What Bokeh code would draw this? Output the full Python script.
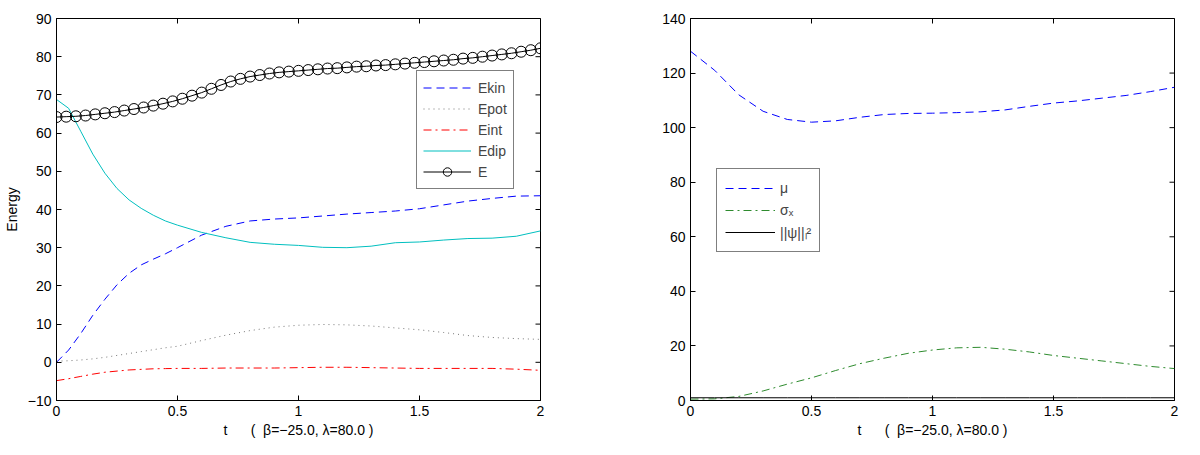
from bokeh.plotting import figure
from bokeh.layouts import row
from bokeh.models import (Range1d, FixedTicker, Legend, LegendItem,
                          CustomJSTickFormatter)
from bokeh.embed import file_html
from bokeh.resources import INLINE

# ---------------- data ----------------
t_a = [0, 0.05, 0.1, 0.15, 0.2, 0.25, 0.3, 0.35, 0.4, 0.45, 0.5,
       0.6, 0.7, 0.8, 0.9, 1.0, 1.1, 1.2, 1.3, 1.4, 1.5, 1.6, 1.7, 1.8, 1.9, 2.0]
ekin = [0.0, 3.2, 7.5, 12.3, 16.5, 20.3, 23.3, 25.5, 27.0, 28.4, 30.0,
        33.3, 35.6, 37.0, 37.5, 37.8, 38.3, 38.8, 39.2, 39.6, 40.2, 41.2, 42.2, 42.9, 43.5, 43.6]
epot = [0.3, 0.4, 0.6, 0.9, 1.3, 1.8, 2.3, 2.8, 3.3, 3.8, 4.2,
        5.7, 7.1, 8.3, 9.2, 9.7, 9.9, 9.8, 9.5, 9.0, 8.5, 7.8, 7.0, 6.5, 6.2, 6.0]
eint = [-4.8, -4.3, -3.7, -3.1, -2.6, -2.3, -2.0, -1.85, -1.7, -1.65, -1.6,
        -1.6, -1.5, -1.5, -1.5, -1.4, -1.3, -1.3, -1.4, -1.5, -1.6, -1.6, -1.6, -1.6, -1.8, -2.1]
edip = [68.8, 66.5, 60.5, 54.5, 49.5, 45.5, 42.5, 40.3, 38.5, 37.0, 35.9,
        34.0, 32.6, 31.4, 30.9, 30.6, 30.1, 30.0, 30.4, 31.3, 31.5, 32.0, 32.4, 32.5, 33.0, 34.4]

t_e = [i * 0.04 for i in range(51)]
e_tot = [64.2, 64.3, 64.4, 64.6, 64.9, 65.2, 65.5, 65.9, 66.3, 66.7,
         67.2, 67.7, 68.3, 69.0, 69.8, 70.6, 71.6, 72.6, 73.5, 74.2,
         74.8, 75.2, 75.6, 75.9, 76.1, 76.3, 76.5, 76.7, 76.9, 77.0,
         77.2, 77.4, 77.5, 77.7, 77.8, 78.0, 78.2, 78.4, 78.6, 78.8,
         79.0, 79.2, 79.5, 79.7, 80.0, 80.3, 80.6, 80.9, 81.3, 81.7, 82.2]

t_b = [0.0, 0.1, 0.2, 0.3, 0.4, 0.5, 0.6, 0.7, 0.8, 0.9, 1.0,
       1.1, 1.2, 1.3, 1.4, 1.5, 1.6, 1.7, 1.8, 1.9, 2.0]
mu = [128.0, 121.0, 112.0, 106.0, 103.0, 102.0, 102.5, 103.8, 104.8, 105.2, 105.3,
      105.5, 105.8, 106.5, 107.8, 109.0, 109.8, 110.8, 111.8, 113.2, 114.8]
sigma_x = [0.5, 0.6, 1.5, 3.5, 6.0, 8.3, 11.0, 13.5, 15.5, 17.3, 18.5,
           19.3, 19.5, 18.8, 17.8, 16.5, 15.5, 14.5, 13.5, 12.5, 11.7]
norm = [1.0] * 21

x_ticks = [0, 0.5, 1, 1.5, 2]
y_ticks_left = [-10, 0, 10, 20, 30, 40, 50, 60, 70, 80, 90]
y_ticks_right = [0, 20, 40, 60, 80, 100, 120, 140]
NB = "\u00a0"
x_label = "t" + NB * 6 + "(" + NB * 2 + "\u03b2=\u221225.0, \u03bb=80.0" + NB + ")"

FONT = "Liberation Sans"
FS = "14px"
TICK = 10  # marker size -> 5px inward tick after clipping


def style_axis(ax, ticks):
    ax.ticker = FixedTicker(ticks=ticks)
    ax.formatter = CustomJSTickFormatter(code="return String(tick).replace('-', '\u2212');")
    ax.major_tick_in = 5
    ax.major_tick_out = 0
    ax.minor_tick_line_color = None
    ax.axis_line_color = "black"
    ax.major_tick_line_color = "black"
    ax.major_label_text_font = FONT
    ax.major_label_text_font_size = FS
    ax.major_label_text_color = "black"
    ax.axis_label_text_font = FONT
    ax.axis_label_text_font_size = FS
    ax.axis_label_text_font_style = "normal"
    ax.axis_label_text_color = "black"


def make_fig(xr, yr, yticks, bl, br, ylabel=None):
    p = figure(frame_width=484, frame_height=382,
               x_range=Range1d(*xr), y_range=Range1d(*yr),
               output_backend="svg", toolbar_location=None,
               min_border_left=bl, min_border_right=br, min_border_top=18,
               min_border_bottom=44)
    p.grid.visible = False
    p.outline_line_color = "black"
    p.outline_line_width = 1
    style_axis(p.xaxis[0], x_ticks)
    style_axis(p.yaxis[0], yticks)
    p.xaxis[0].major_label_standoff = 5
    p.xaxis[0].axis_label = x_label
    p.xaxis[0].axis_label_standoff = 3
    p.yaxis[0].major_label_standoff = 5
    if ylabel:
        p.yaxis[0].axis_label = ylabel
        p.yaxis[0].axis_label_standoff = 5
    # mirrored inward ticks on the right and top edges of the box
    p.scatter([xr[1]] * len(yticks), yticks, marker="dash", size=TICK,
              line_color="black", line_width=1)
    p.scatter(x_ticks, [yr[1]] * len(x_ticks), marker="dash", angle=1.5707963,
              size=TICK, line_color="black", line_width=1)
    return p


# ---------------- left plot ----------------
p1 = make_fig((0, 2), (-10, 90), y_ticks_left, 49, 67, ylabel="Energy")
r_ekin = p1.line(t_a, ekin, line_color="#0000ff", line_width=1, line_dash="8 5")
r_epot = p1.line(t_a, epot, line_color="#777777", line_width=1, line_dash="1 4")
r_eint = p1.line(t_a, eint, line_color="#ff0000", line_width=1, line_dash="8 4 2 4")
r_edip = p1.line(t_a, edip, line_color="#00bfbf", line_width=1)
r_e_l = p1.line(t_e, e_tot, line_color="black", line_width=1)
r_e_m = p1.scatter(t_e, e_tot, marker="circle", size=11, fill_color=None,
                   line_color="black", line_width=1)

leg1 = Legend(items=[LegendItem(label="Ekin", renderers=[r_ekin]),
                     LegendItem(label="Epot", renderers=[r_epot]),
                     LegendItem(label="Eint", renderers=[r_eint]),
                     LegendItem(label="Edip", renderers=[r_edip]),
                     LegendItem(label="E", renderers=[r_e_l, r_e_m])],
              location=(360, 211), orientation="vertical",
              border_line_color="black", border_line_width=1,
              background_fill_color="white", background_fill_alpha=1,
              padding=6, spacing=0, margin=0, glyph_width=48, glyph_height=21,
              label_height=21, label_standoff=7,
              label_text_font=FONT, label_text_font_size=FS)
p1.add_layout(leg1, "center")

# ---------------- right plot ----------------
p2 = make_fig((0, 2), (0, 140), y_ticks_right, 83, 17)
r_mu = p2.line(t_b, mu, line_color="#0000ff", line_width=1, line_dash="8 5")
r_sig = p2.line(t_b, sigma_x, line_color="#2e8b2e", line_width=1, line_dash="8 4 2 4")
r_norm = p2.line(t_b, norm, line_color="black", line_width=1)

leg2 = Legend(items=[LegendItem(label="\u03bc", renderers=[r_mu]),
                     LegendItem(label="\u03c3\u2093", renderers=[r_sig]),
                     LegendItem(label="||\u03c8||\u2097\u00b2", renderers=[r_norm])],
              location=(26, 148), orientation="vertical",
              border_line_color="black", border_line_width=1,
              background_fill_color="white", background_fill_alpha=1,
              padding=8, spacing=0, margin=0, glyph_width=50, glyph_height=22,
              label_height=22, label_standoff=5,
              label_text_font=FONT, label_text_font_size=FS)
p2.add_layout(leg2, "center")

layout = row(p1, p2)
open("out.html", "w").write(file_html(layout, INLINE))
